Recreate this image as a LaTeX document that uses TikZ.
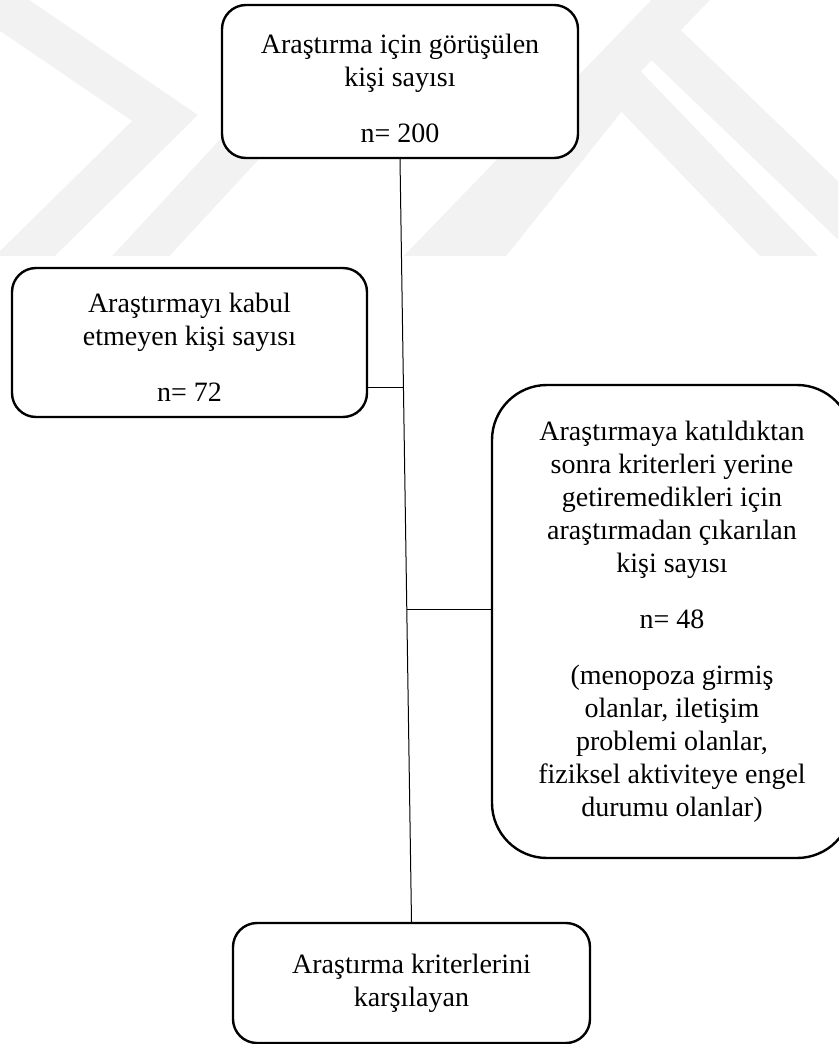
\documentclass[tikz,border=0pt]{standalone}
\usepackage{fontspec}
\setmainfont{Liberation Serif}
\usetikzlibrary{calc}
\tikzset{
  kutu/.style={draw, fill=white, line width=2.4pt, rounded corners=24pt, align=center, inner sep=0pt,
    font=\fontsize{28}{33}\selectfont},
  hat/.style={line width=1pt},
  filigran/.style={line width=42pt, black!5}
}
\begin{document}
\begin{tikzpicture}[x=1pt,y=-1pt]
  \useasboundingbox (0,0) rectangle (838,1044);
  % soluk filigran
  \begin{scope}
    \clip (0,0) rectangle (838,255);
    \draw[filigran] (-30,-15) -- (165,118) -- (-40,320);
    \draw[filigran] (350,30) -- (100,300);
    \draw[filigran] (700,-20) -- (400,290);
    \draw[filigran] (420,330) -- (620,80) -- (860,330);
    \draw[filigran] (640,20) -- (900,270);
  \end{scope}
  \node[kutu, minimum width=356pt, minimum height=153pt] (gorusulen) at (400,81.5)
    {\rule{0pt}{34pt}Araştırma için görüşülen\\kişi sayısı\\[23pt]n= 200};
  \node[kutu, minimum width=355pt, minimum height=149pt] (kabul) at (189.5,342.5)
    {\rule{0pt}{29pt}Araştırmayı kabul\\etmeyen kişi sayısı\\[23pt]n= 72};
  \node[kutu, rounded corners=55pt, minimum width=360pt, minimum height=473pt] (cikan) at (672,621.5)
    {Araştırmaya katıldıktan\\sonra kriterleri yerine\\getiremedikleri için\\araştırmadan çıkarılan\\kişi sayısı\\[23pt]
     n= 48\\[23pt](menopoza girmiş\\olanlar, iletişim\\problemi olanlar,\\fiziksel aktiviteye engel\\durumu olanlar)};
  \node[kutu, minimum width=357pt, minimum height=120pt] (karsilayan) at (411.5,983)
    {Araştırma kriterlerini\\karşılayan};
  %
  \draw[hat] (gorusulen.south) -- (karsilayan.north);
  \coordinate (k1) at ($(gorusulen.south)!0.3!(karsilayan.north)$);
  \coordinate (k2) at ($(gorusulen.south)!0.59!(karsilayan.north)$);
  \draw[hat] (k1) -- (k1 -| kabul.east);
  \draw[hat] (k2) -- (k2 -| cikan.west);
\end{tikzpicture}
\end{document}
